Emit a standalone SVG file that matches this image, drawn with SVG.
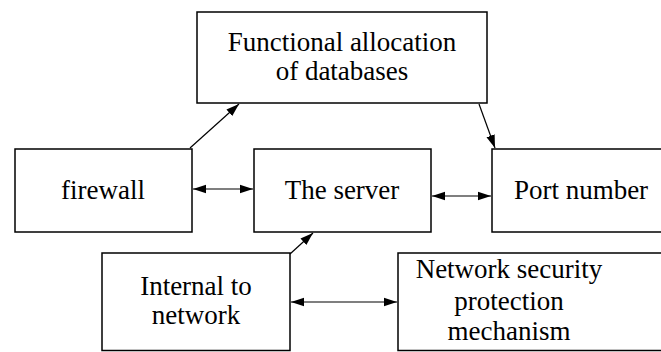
<svg xmlns="http://www.w3.org/2000/svg" width="661" height="352" viewBox="0 0 661 352">
<style>
.box{fill:#fff;stroke:#000;stroke-width:1.5}
.t{font-family:'Liberation Serif','Times New Roman',Times,serif;font-size:27px;fill:#000;text-anchor:middle}
.c{stroke:#000;stroke-width:1.2;fill:none}
</style>
<defs>
<marker id="ah" viewBox="0 0 12 10" refX="12" refY="5" markerWidth="13" markerHeight="11" markerUnits="userSpaceOnUse" orient="auto-start-reverse">
<path d="M0,1 L12,5 L0,9 Z" fill="#000"/>
</marker>
</defs>
<rect width="661" height="352" fill="#fff"/>
<g id="db"><rect class="box" x="197" y="12" width="290" height="91"/><text class="t" x="342" y="51">Functional allocation</text><text class="t" x="342" y="80">of databases</text></g>
<g id="firewall"><rect class="box" x="15" y="149" width="177" height="83"/><text class="t" x="103" y="199">firewall</text></g>
<g id="server"><rect class="box" x="254" y="149" width="177" height="83"/><text class="t" x="342" y="199">The server</text></g>
<g id="port"><rect class="box" x="492" y="149" width="180" height="83"/><text class="t" x="581" y="199">Port number</text></g>
<g id="internal"><rect class="box" x="102" y="253" width="188" height="97.5"/><text class="t" x="196" y="295">Internal to</text><text class="t" x="196" y="324">network</text></g>
<g id="security"><rect class="box" x="398" y="253" width="275" height="97.5"/><text class="t" x="509" y="278">Network security</text><text class="t" x="509" y="310">protection</text><text class="t" x="509" y="340">mechanism</text></g>
<g id="connectors">
<line class="c" x1="190" y1="148" x2="239" y2="104" marker-end="url(#ah)"/>
<line class="c" x1="479" y1="104" x2="495" y2="148" marker-end="url(#ah)"/>
<line class="c" x1="193" y1="189" x2="253" y2="189" marker-start="url(#ah)" marker-end="url(#ah)"/>
<line class="c" x1="432" y1="196" x2="491" y2="196" marker-start="url(#ah)" marker-end="url(#ah)"/>
<line class="c" x1="290" y1="254" x2="313" y2="233" marker-end="url(#ah)"/>
<line class="c" x1="291" y1="302" x2="397" y2="302" marker-start="url(#ah)" marker-end="url(#ah)"/>
</g>
</svg>
